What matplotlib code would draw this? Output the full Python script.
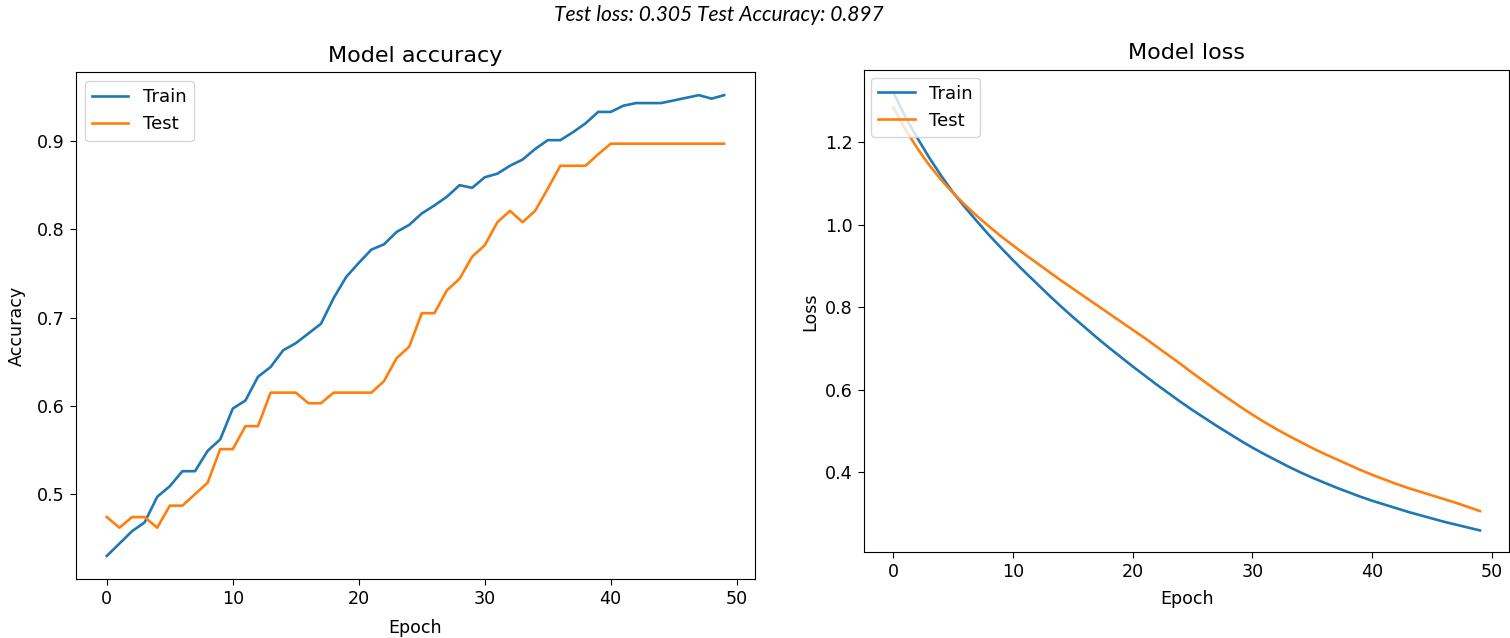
import matplotlib
matplotlib.use('Agg')
import matplotlib.pyplot as plt

# --- dados ---
epochs = list(range(50))

train_acc = [0.430, 0.444, 0.458, 0.468, 0.497, 0.509, 0.526, 0.526, 0.549, 0.562,
             0.597, 0.606, 0.633, 0.644, 0.663, 0.671, 0.682, 0.693, 0.722, 0.746,
             0.762, 0.777, 0.783, 0.797, 0.805, 0.818, 0.827, 0.837, 0.850, 0.847,
             0.859, 0.863, 0.872, 0.879, 0.891, 0.901, 0.901, 0.910, 0.920, 0.933,
             0.933, 0.940, 0.943, 0.943, 0.943, 0.946, 0.949, 0.952, 0.948, 0.952]

test_acc = [0.474, 0.462, 0.474, 0.474, 0.462, 0.487, 0.487, 0.500, 0.513, 0.551,
            0.551, 0.577, 0.577, 0.615, 0.615, 0.615, 0.603, 0.603, 0.615, 0.615,
            0.615, 0.615, 0.628, 0.654, 0.667, 0.705, 0.705, 0.731, 0.744, 0.769,
            0.782, 0.808, 0.821, 0.808, 0.821, 0.846, 0.872, 0.872, 0.872, 0.885,
            0.897, 0.897, 0.897, 0.897, 0.897, 0.897, 0.897, 0.897, 0.897, 0.897]

train_loss = [1.322, 1.262, 1.211, 1.163, 1.119, 1.078, 1.042, 1.008, 0.975, 0.944,
              0.914, 0.885, 0.857, 0.829, 0.802, 0.776, 0.751, 0.726, 0.702, 0.679,
              0.656, 0.634, 0.612, 0.591, 0.570, 0.550, 0.531, 0.512, 0.494, 0.476,
              0.459, 0.443, 0.428, 0.413, 0.399, 0.386, 0.374, 0.362, 0.351, 0.340,
              0.330, 0.321, 0.312, 0.303, 0.295, 0.287, 0.279, 0.272, 0.265, 0.258]

test_loss = [1.285, 1.232, 1.186, 1.145, 1.109, 1.077, 1.048, 1.021, 0.996, 0.972,
             0.950, 0.928, 0.907, 0.886, 0.865, 0.845, 0.825, 0.805, 0.785, 0.765,
             0.745, 0.725, 0.704, 0.683, 0.662, 0.640, 0.619, 0.598, 0.578, 0.558,
             0.539, 0.521, 0.504, 0.488, 0.473, 0.458, 0.444, 0.431, 0.418, 0.405,
             0.393, 0.382, 0.371, 0.361, 0.352, 0.343, 0.334, 0.325, 0.315, 0.305]

test_loss_final = 0.305
test_acc_final = 0.897

plt.rcParams['font.size'] = 12.6
plt.rcParams['legend.fontsize'] = 13
plt.rcParams['xtick.major.size'] = 4.4
plt.rcParams['ytick.major.size'] = 4.4
plt.rcParams['lines.linewidth'] = 1.9

fig = plt.figure(figsize=(15.1, 6.38), dpi=100)

# --- acurácia ---
ax1 = fig.add_axes([0.0503, 0.0925, 0.4497, 0.7945])
ax1.plot(epochs, train_acc, color='#1f77b4', label='Train')
ax1.plot(epochs, test_acc, color='#ff7f0e', label='Test')
ax1.set_title('Model accuracy', fontsize=16, pad=7)
ax1.set_xlabel('Epoch', labelpad=8)
ax1.set_ylabel('Accuracy', labelpad=8)
ax1.set_yticks([0.5, 0.6, 0.7, 0.8, 0.9])
ax1.legend(loc='upper left')

# --- loss ---
ax2 = fig.add_axes([0.5722, 0.1343, 0.4273, 0.7555])
ax2.plot(epochs, train_loss, color='#1f77b4', label='Train')
ax2.plot(epochs, test_loss, color='#ff7f0e', label='Test')
ax2.set_title('Model loss', fontsize=16, pad=8)
ax2.set_xlabel('Epoch', labelpad=6)
ax2.set_ylabel('Loss')
ax2.set_yticks([0.4, 0.6, 0.8, 1.0, 1.2])
ax2.legend(loc='upper left', borderaxespad=0.4)

# --- título geral em itálico, ajustado à largura do original ---
sup = fig.text(719 / 1510, 1 - 15 / 638,
               f'Test loss: {test_loss_final} Test Accuracy: {test_acc_final}',
               ha='center', va='center', style='italic', family='Lato', fontsize=14)
fig.canvas.draw()
w = sup.get_window_extent().width
sup.set_fontsize(14 * 332 / w)

fig.savefig('out.png', dpi=100)
plt.close(fig)
